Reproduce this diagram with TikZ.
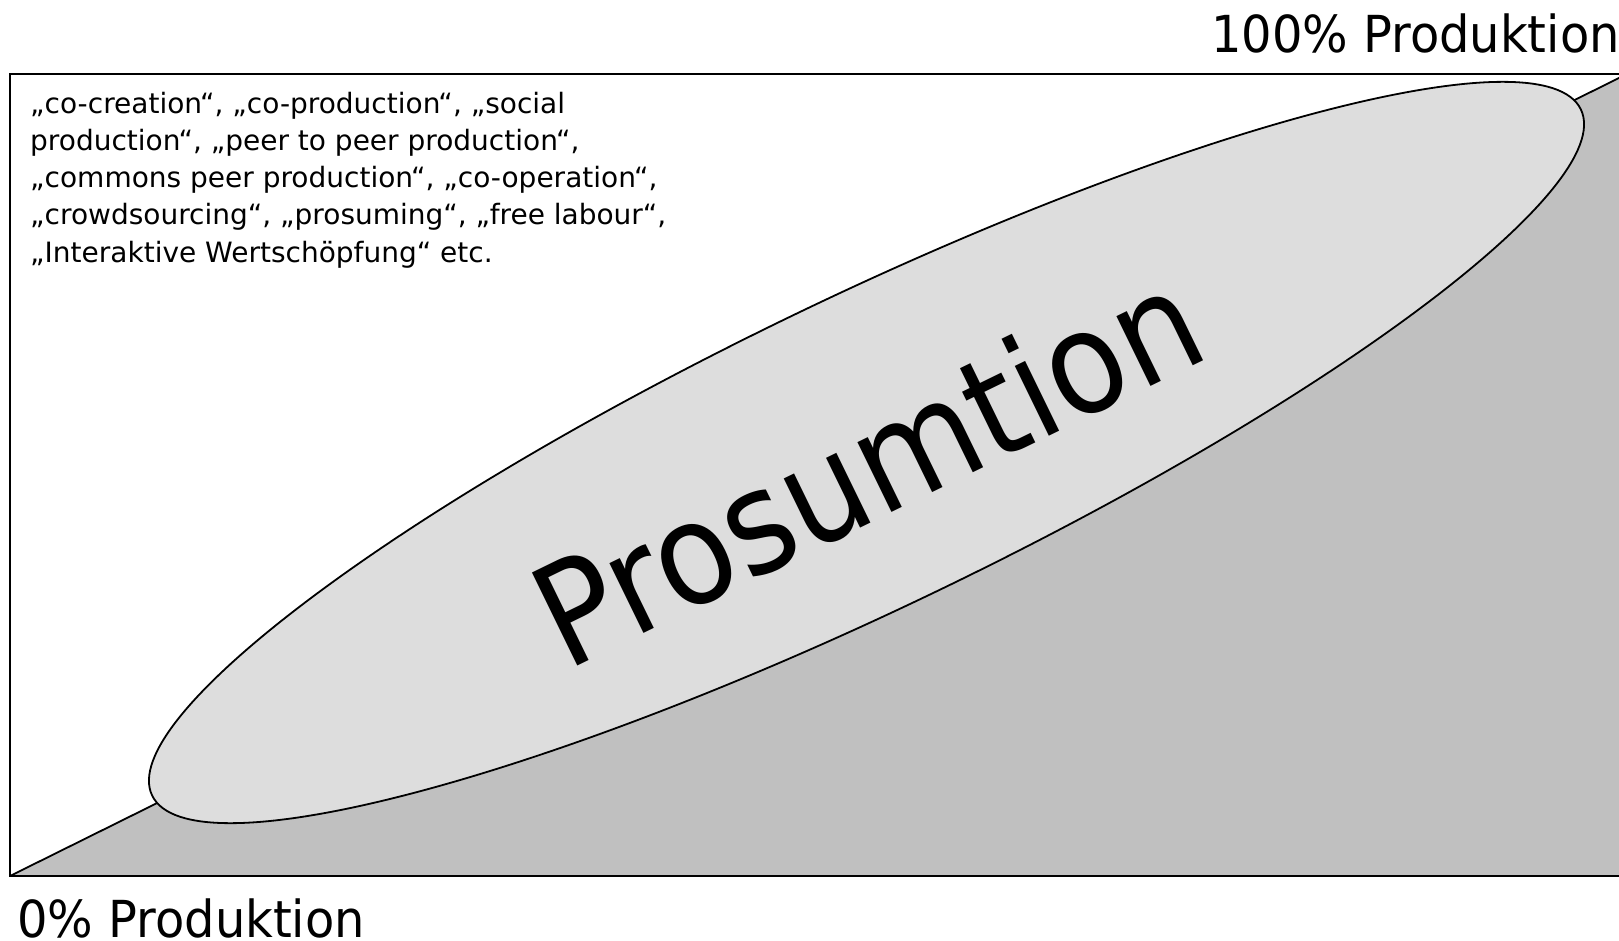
\documentclass[tikz,border=0pt]{standalone}
\usepackage{fontspec}
\setmainfont{DejaVu Sans}
\newfontfamily\bigfont[FakeStretch=0.9]{DejaVu Sans}
\newfontfamily\labfont[FakeStretch=0.94]{DejaVu Sans}
\usetikzlibrary{shapes.geometric}
\definecolor{elfill}{HTML}{DDDDDD}
\definecolor{trifill}{HTML}{C0C0C0}
\tikzset{
  frameline/.style={line width=2pt, draw=black, line join=miter},
  diagline/.style={line width=1.8pt, draw=black},
  prosell/.style={ellipse, draw=black, fill=elfill, line width=1.8pt, inner sep=0pt, outer sep=0pt},
  smalltext/.style={anchor=base west, inner sep=0pt, font=\fontsize{28}{33}\selectfont},
  labeltext/.style={inner sep=0pt, font=\labfont\fontsize{51}{60}\selectfont},
  prostext/.style={anchor=base west, inner sep=0pt, font=\bigfont\fontsize{142}{170}\selectfont}
}
\begin{document}
\begin{tikzpicture}[x=1pt,y=-1pt]
\useasboundingbox (0,0) rectangle (1619,941);
\coordinate (BL) at (10,876);
\coordinate (TL) at (10,74);
\coordinate (TRc) at (1625,74);
\coordinate (BR) at (1625,876);
\coordinate (TR) at (1625,75);
% grey triangle
\fill[trifill] (BL) -- (TR) -- (BR) -- cycle;
\draw[diagline] (BL) -- (TR);
% ellipse
\node[prosell, minimum width=1585pt, minimum height=311pt, rotate=25.65] (pros) at (866.5,452.5) {};
% frame
\draw[frameline] (TRc) -- (TL) -- (BL) -- (BR);
% big text
\node[prostext, rotate=26] (prostxt) at (566,671.5) {Prosumtion};
% labels
\node[labeltext, anchor=base east] (top) at (1620,52.3) {100\% Produktion};
\node[labeltext, anchor=base west] (bot) at (17,937) {0\% Produktion};
% term list
\node[smalltext] (l1) at (30,113.3) {„co-creation“, „co-production“, „social};
\node[smalltext] (l2) at (30,150.5) {production“, „peer to peer production“,};
\node[smalltext] (l3) at (30,187.8) {„commons peer production“, „co-operation“,};
\node[smalltext] (l4) at (30,225.0) {„crowdsourcing“, „prosuming“, „free labour“,};
\node[smalltext] (l5) at (30,262.3) {„Interaktive Wertschöpfung“ etc.};
\end{tikzpicture}
\end{document}
